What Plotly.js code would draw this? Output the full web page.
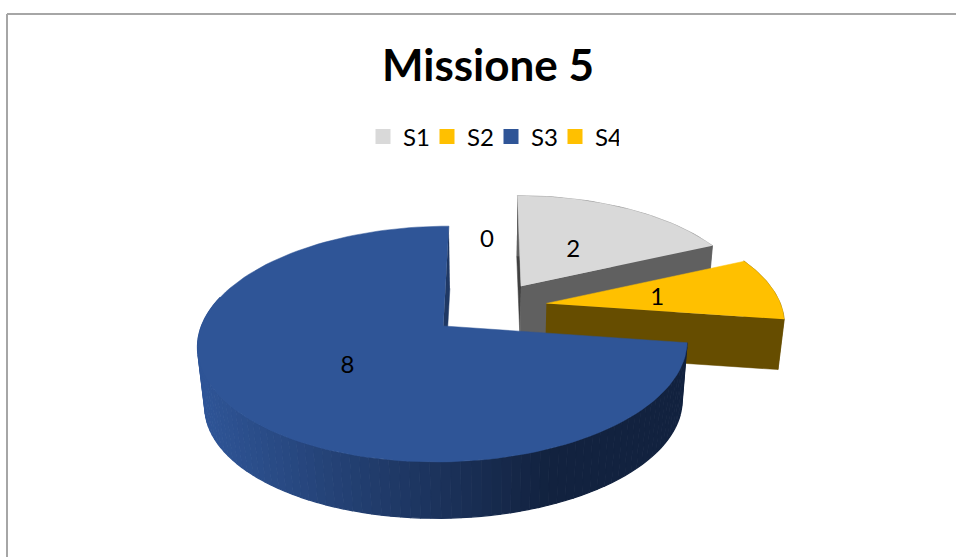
<!DOCTYPE html>
<html><head><meta charset="utf-8">
<script src="https://cdn.plot.ly/plotly-3.0.1.min.js"></script>
<style>html,body{margin:0;padding:0;background:#fff}</style></head>
<body><div id="chart" style="width:956px;height:557px"></div>
<script>
const titleText = "Missione 5";
const categories = ["S1", "S2", "S3", "S4"];
const values = [2, 1, 8, 0];
const topColors = ["#D9D9D9", "#FFC000", "#2F5597", "#FFC000"];
const sideColors = ["#606060", "#664D00", "#1F3864", "#664D00"];

const FONT = "Lato, 'Open Sans', sans-serif";
// projection of the tilted, exploded pie onto the plot's data axes
const O = {x: 487, y: 307}, B = 240, A = 110, K = 0.15, EXPLODE = 0.23;
const VP = {x: 488, y: 2715};
// per-slice camera corrections
const widthTrim = [0.965, 0.98, 0.985, 1], shiftX = [5, 5, -1, 0], shiftY = [0, 0, 2, 0];
const depthF = [0.976, 0.979, 0.975, 0.976];
const project = (X, Y) => {
  const s = 1 / (1 - K * Y);
  return [O.x + B * X * s, O.y + A * Y * s];
};
const total = values.reduce((a, b) => a + b, 0);
const rad = d => d * Math.PI / 180;

let acc = 0;
const slices = values.map((v, i) => {
  const a0 = acc / total * 360; acc += v;
  const a1 = acc / total * 360;
  const mid = (a0 + a1) / 2;
  const ax = EXPLODE * Math.sin(rad(mid)), ay = -EXPLODE * Math.cos(rad(mid));
  const raw = project(ax, ay);
  const adj = p => [raw[0] + shiftX[i] + (p[0] - raw[0]) * widthTrim[i], p[1] + shiftY[i]];
  const pt = (deg, r = 1) => adj(project(ax + r * Math.sin(rad(deg)), ay - r * Math.cos(rad(deg))));
  const lower = p => [VP.x + depthF[i] * (p[0] - VP.x), VP.y + depthF[i] * (p[1] - VP.y)];
  return {i, v, a0, a1, mid, pt, lower, apex: adj(raw)};
});
const arc = (s, from, to, n) => {
  const out = [];
  for (let k = 0; k <= n; k++) out.push(s.pt(from + (to - from) * k / n));
  return out;
};
const poly = (pts, color, w) => ({
  type: "scatter", mode: "lines", x: pts.map(p => p[0]), y: pts.map(p => p[1]),
  fill: "toself", fillcolor: color, line: {color: color, width: w === undefined ? 0.5 : w},
  hoverinfo: "skip", showlegend: false
});
const mix = (c1, c2, t) => "rgb(" + c1.map((c, j) => Math.round(c + (c2[j] - c) * t)).join(",") + ")";

const traces = [];
// legend keys
categories.forEach((c, i) => traces.push({
  type: "scatter", mode: "markers", x: [null], y: [null], name: c,
  marker: {symbol: "square", size: 15, color: topColors[i]}, hoverinfo: "skip"
}));

const drawSlice = s => {
  if (!s.v) return;
  const side = sideColors[s.i];
  const startP = s.pt(s.a0), endP = s.pt(s.a1);
  if (s.i === 2) {
    // far cut face (thin sliver), then shaded outer wall
    traces.push(poly([endP, s.apex, s.lower(s.apex), s.lower(endP)], "#1F3864"));
    const from = s.a0, to = 285, n = 90;
    for (let k = 0; k < n; k++) {
      const a = from + (to - from) * k / n, b = from + (to - from) * (k + 1) / n;
      const p = s.pt(a), q = s.pt(b);
      const xm = (p[0] + q[0]) / 2;
      const t = Math.min(1, Math.max(0, (xm - 200) / 350));
      traces.push(poly([p, q, s.lower(q), s.lower(p)], mix([47, 85, 151], [18, 34, 63], t), 1.2));
    }
  } else {
    if (s.i === 0) traces.push(poly([startP, s.apex, s.lower(s.apex), s.lower(startP)], "#404040"));
    const wall = arc(s, s.a0, s.a1, 30);
    traces.push(poly(wall.concat(wall.map(s.lower).reverse()), side));
    traces.push(poly([s.apex, endP, s.lower(endP), s.lower(s.apex)], side));
  }
  traces.push(poly([s.apex].concat(arc(s, s.a0, s.a1, 120)), topColors[s.i]));
};
slices.forEach(drawSlice);

// data labels: radial fraction and angle nudge per slice, placed through the projection
const labelR = [0.44, 0.48, 0.5, 0.43], labelTurn = [2, 3, -2, 0];
const labelPts = slices.map((s, i) => s.pt(s.mid + labelTurn[i], labelR[i]));
traces.push({
  type: "scatter", mode: "text", x: labelPts.map(p => p[0]), y: labelPts.map(p => p[1]),
  text: values.map(String), textposition: "middle center",
  textfont: {family: FONT, size: 24, color: "#000"}, hoverinfo: "skip", showlegend: false
});

const frame = (x0, y0, x1, y1) => ({type: "line", xref: "x", yref: "y", x0, y0, x1, y1, line: {color: "#A6A6A6", width: 2}});
const layout = {
  width: 956, height: 557, margin: {l: 0, r: 0, t: 0, b: 0},
  paper_bgcolor: "#fff", plot_bgcolor: "#fff",
  title: {text: titleText, x: 488 / 956, xanchor: "center", y: 1 - 66 / 557, yanchor: "middle",
          font: {family: FONT, size: 44, color: "#000", weight: 700}},
  xaxis: {range: [0, 956], visible: false, fixedrange: true},
  yaxis: {range: [557, 0], visible: false, fixedrange: true},
  legend: {orientation: "h", x: 491 / 956, xanchor: "center", y: 1 - 137 / 557, yanchor: "middle",
           font: {family: FONT, size: 24, color: "#000"}, itemwidth: 30, entrywidth: 19, entrywidthmode: "pixels",
           bgcolor: "rgba(0,0,0,0)", traceorder: "normal", itemclick: false, itemdoubleclick: false},
  shapes: [frame(7, 14, 7, 557), frame(7, 14, 956, 14)],
  showlegend: true
};
Plotly.newPlot("chart", traces, layout, {displayModeBar: false, staticPlot: true});
</script></body></html>
